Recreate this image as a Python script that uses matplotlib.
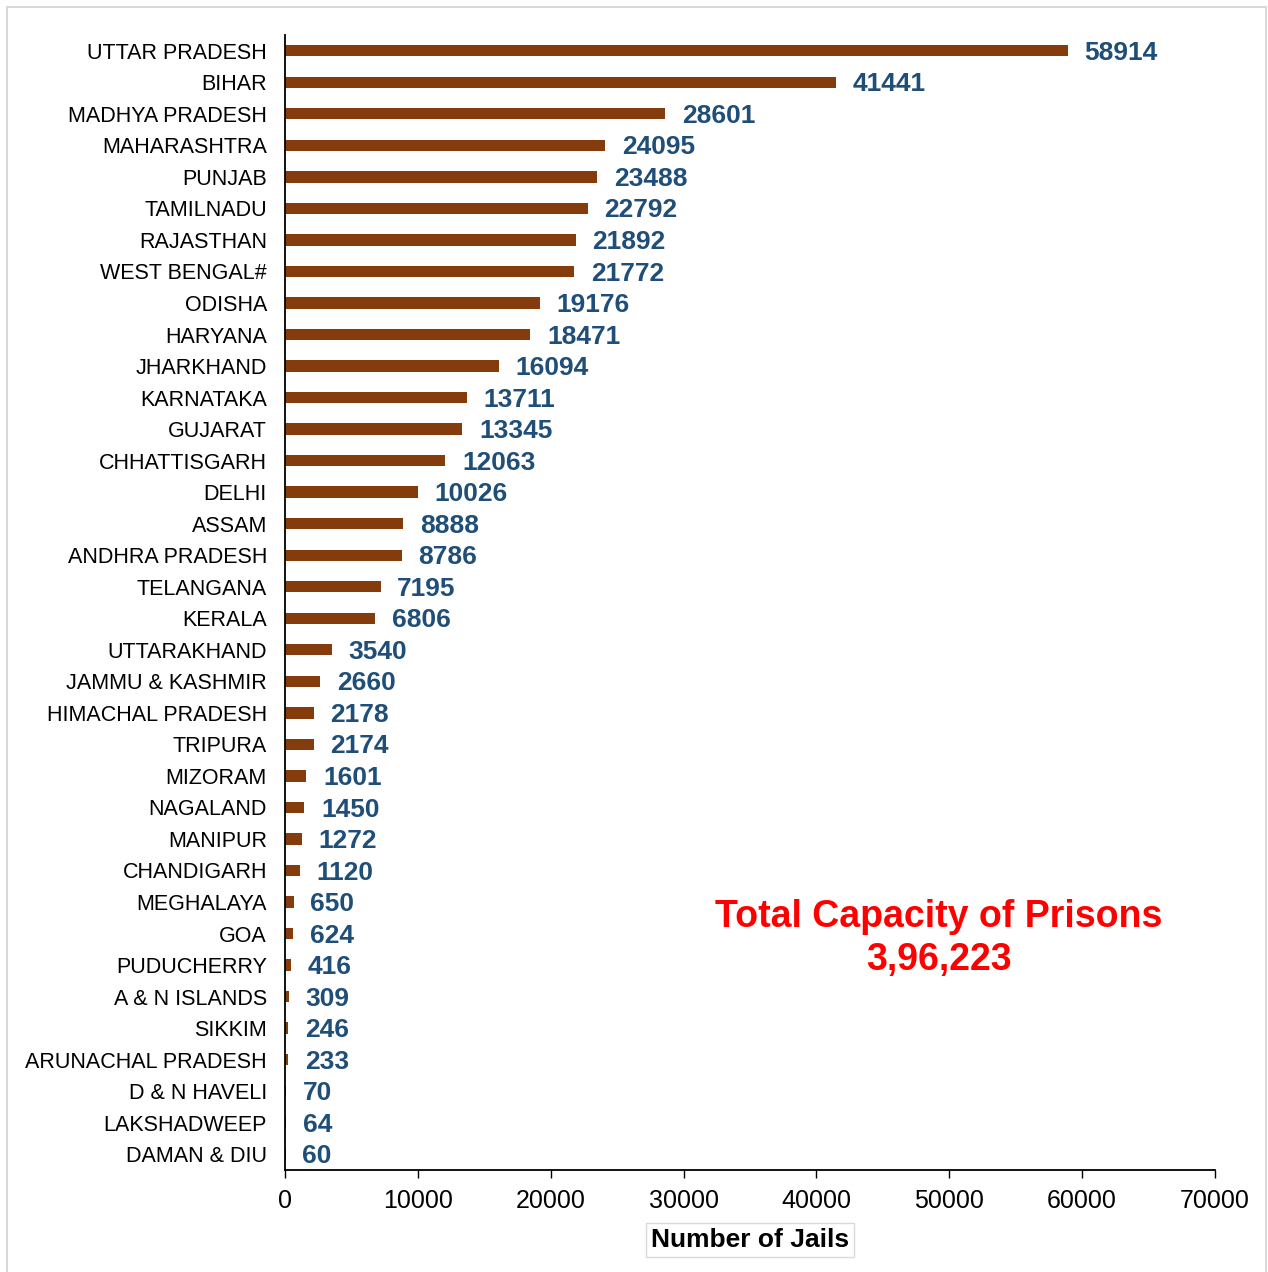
import matplotlib
matplotlib.use("Agg")
import matplotlib.pyplot as plt
from matplotlib.patches import Rectangle

plt.rcParams['font.family'] = ['Liberation Sans', 'DejaVu Sans']

states = ["UTTAR PRADESH", "BIHAR", "MADHYA PRADESH", "MAHARASHTRA", "PUNJAB",
          "TAMILNADU", "RAJASTHAN", "WEST BENGAL#", "ODISHA", "HARYANA",
          "JHARKHAND", "KARNATAKA", "GUJARAT", "CHHATTISGARH", "DELHI",
          "ASSAM", "ANDHRA PRADESH", "TELANGANA", "KERALA", "UTTARAKHAND",
          "JAMMU & KASHMIR", "HIMACHAL PRADESH", "TRIPURA", "MIZORAM", "NAGALAND",
          "MANIPUR", "CHANDIGARH", "MEGHALAYA", "GOA", "PUDUCHERRY",
          "A & N ISLANDS", "SIKKIM", "ARUNACHAL PRADESH", "D & N HAVELI",
          "LAKSHADWEEP", "DAMAN & DIU"]
capacity = [58914, 41441, 28601, 24095, 23488, 22792, 21892, 21772, 19176, 18471,
            16094, 13711, 13345, 12063, 10026, 8888, 8786, 7195, 6806, 3540,
            2660, 2178, 2174, 1601, 1450, 1272, 1120, 650, 624, 416,
            309, 246, 233, 70, 64, 60]
xticks = [0, 10000, 20000, 30000, 40000, 50000, 60000, 70000]
total_title = "Total Capacity of Prisons"
total_value = "3,96,223"
xlabel = "Number of Jails"

W, H = 1268, 1272
fig = plt.figure(figsize=(W / 100, H / 100), dpi=100)
fig.patches.append(Rectangle((7 / W, -0.01), (1266 - 7) / W, (H - 7) / H + 0.01,
                             transform=fig.transFigure, fill=False,
                             edgecolor='#D9D9D9', linewidth=1.5))

ax = fig.add_axes([285 / W, 1 - 1170 / H, (1215 - 285) / W, (1170 - 35) / H])
ypos = list(range(len(states)))
ax.barh(ypos, capacity, height=0.36, color='#843C0C')
ax.set_ylim(len(states) - 0.5, -0.5)
ax.set_xlim(0, 70000)
ax.set_yticks(ypos)
ax.set_yticklabels(states, fontsize=15.5)
ax.set_xticks(xticks)
ax.set_xticklabels([str(t) for t in xticks], fontsize=18)
ax.tick_params(axis='y', length=0, pad=13)
ax.tick_params(axis='x', length=6, width=1, pad=8, direction='out')
for s in ['top', 'right']:
    ax.spines[s].set_visible(False)
for s in ['left', 'bottom']:
    ax.spines[s].set_linewidth(1.3)
    ax.spines[s].set_color('black')

for y, v in zip(ypos, capacity):
    ax.annotate(str(v), xy=(v, y), xytext=(12, -1.5), textcoords='offset points',
                ha='left', va='center', fontsize=19, fontweight='bold',
                color='#1F4E79')

fig.text(750 / W, 1 - 1240 / H, xlabel, ha='center', va='center', fontsize=19,
         fontweight='bold',
         bbox=dict(boxstyle='square,pad=0.2', facecolor='white', edgecolor='#D9D9D9'))

fig.text(939 / W, 1 - 917 / H, total_title, ha='center', va='center', fontsize=27,
         fontweight='bold', color='#FF0000')
fig.text(939 / W, 1 - 960 / H, total_value, ha='center', va='center', fontsize=27,
         fontweight='bold', color='#FF0000')

fig.savefig('out.png', dpi=100)
